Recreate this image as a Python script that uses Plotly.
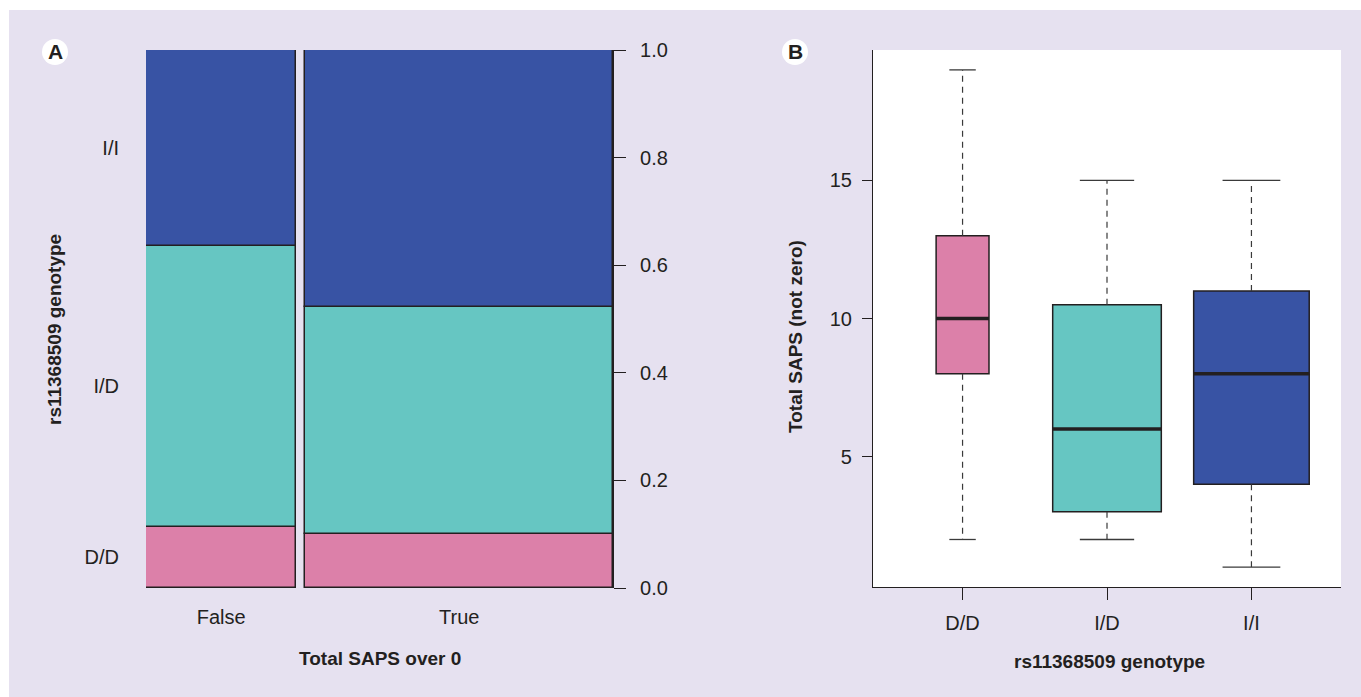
import numpy as np
import plotly.graph_objects as go

# ---------------- data ----------------
genotypes = ["D/D", "I/D", "I/I"]
saps_groups = ["False", "True"]
# counts of each genotype within "Total SAPS over 0" groups (read from mosaic proportions)
counts_false = [5, 23, 16]
counts_true = [9, 38, 43]
# boxplot statistics of Total SAPS (non-zero) per genotype
box_lower = [2, 2, 1]
box_q1 = [8, 3, 4]
box_median = [10, 6, 8]
box_q3 = [13, 10.5, 11]
box_upper = [19, 15, 15]
mosaic_ticks = [0.0, 0.2, 0.4, 0.6, 0.8, 1.0]
saps_ticks = [5, 10, 15]

# ---------------- styles ----------------
W, H = 1361, 697
colors = ["#dc80a9", "#66c6c2", "#3853a4"]
edge = "#231f20"
txt = "#231f20"
lavender = "#e6e1f0"
FONT = "Liberation Sans, Arial, sans-serif"
FS = 20
FT = 19


def fx(p):
    return p / W


def fy(p):
    return 1 - p / H


fig = go.Figure()

# ---------------- panel A: mosaic ----------------
cnt = np.array([counts_false, counts_true], dtype=float)  # rows: group, cols: genotype
N = cnt.sum()
gap = 9 / 467
col_w = (1 - gap) * cnt.sum(axis=1) / N
col_left = np.array([0.0, col_w[0] + gap])
col_center = col_left + col_w / 2
frac = cnt / cnt.sum(axis=1, keepdims=True)
base = np.cumsum(frac, axis=1) - frac

for gi, g in enumerate(genotypes):
    fig.add_trace(go.Bar(
        x=col_center, y=frac[:, gi], base=base[:, gi], width=col_w,
        marker=dict(color=colors[gi], line=dict(color=edge, width=1.5)),
        xaxis="x", yaxis="y", showlegend=False, name=g,
    ))

# invisible trace to carry the left genotype label axis
label_pos = base[0] + frac[0] / 2
fig.add_trace(go.Scatter(x=[0.5], y=[0.5], mode="markers", marker=dict(opacity=0),
                         xaxis="x", yaxis="y3", showlegend=False, hoverinfo="skip"))

# ---------------- panel B: boxplots ----------------
pos = np.arange(len(genotypes))
n_nonzero = np.array(counts_true, dtype=float)
bw = 0.8 * np.sqrt(n_nonzero / n_nonzero.max())

for i, g in enumerate(genotypes):
    fig.add_trace(go.Box(
        x=[pos[i]], q1=[box_q1[i]], median=[box_median[i]], q3=[box_q3[i]],
        lowerfence=[box_q1[i]], upperfence=[box_q3[i]], width=bw[i],
        fillcolor=colors[i], line=dict(color=edge, width=1.5), whiskerwidth=0,
        xaxis="x2", yaxis="y2", showlegend=False, name=g, hoverinfo="skip",
    ))

wx, wy, cx, cy, mx, my = [], [], [], [], [], []
for i in range(len(genotypes)):
    p = pos[i]
    wx += [p, p, None, p, p, None]
    wy += [box_q3[i], box_upper[i], None, box_q1[i], box_lower[i], None]
    cx += [p - bw[i] / 4, p + bw[i] / 4, None, p - bw[i] / 4, p + bw[i] / 4, None]
    cy += [box_upper[i], box_upper[i], None, box_lower[i], box_lower[i], None]
    mx += [p - bw[i] / 2, p + bw[i] / 2, None]
    my += [box_median[i], box_median[i], None]

fig.add_trace(go.Scatter(x=wx, y=wy, mode="lines", line=dict(color="#3a3a3a", width=1.2, dash="6px,5px"),
                         xaxis="x2", yaxis="y2", showlegend=False, hoverinfo="skip"))
fig.add_trace(go.Scatter(x=cx, y=cy, mode="lines", line=dict(color="#3a3a3a", width=1.3),
                         xaxis="x2", yaxis="y2", showlegend=False, hoverinfo="skip"))
fig.add_trace(go.Scatter(x=mx, y=my, mode="lines", line=dict(color=edge, width=3.5),
                         xaxis="x2", yaxis="y2", showlegend=False, hoverinfo="skip"))

# ---------------- layout ----------------
tickfont = dict(family=FONT, size=FS, color=txt)
common = dict(showgrid=False, zeroline=False, tickfont=tickfont, automargin=False)

yA_dom = [fy(588), fy(50)]
yB_dom = [fy(587), fy(50)]

fig.update_layout(
    width=W, height=H, margin=dict(l=0, r=0, t=0, b=0, pad=0), autosize=False,
    paper_bgcolor="white", plot_bgcolor="rgba(0,0,0,0)",
    barmode="overlay", boxmode="overlay", bargap=0,
    font=dict(family=FONT, size=FS, color=txt),
    xaxis=dict(domain=[fx(146), fx(613)], range=[0, 1], anchor="y",
               tickvals=col_center, ticktext=saps_groups, ticks="outside",
               ticklen=11, tickcolor="rgba(0,0,0,0)", showline=False, **common),
    yaxis=dict(domain=yA_dom, range=[0, 1], anchor="x", side="right",
               tickvals=mosaic_ticks, tickformat=".1f", ticks="outside", ticklen=12,
               tickwidth=1.2, tickcolor=edge, showline=True, linecolor=edge, linewidth=1.2,
               ticklabelstandoff=10, **common),
    yaxis3=dict(domain=yA_dom, range=[0, 1], anchor="x", overlaying="y", side="left",
                tickvals=label_pos, ticktext=genotypes, ticks="outside", ticklen=22,
                tickcolor="rgba(0,0,0,0)", showline=False, **common),
    xaxis2=dict(domain=[fx(873), fx(1341)], range=[-0.62, 2.62], anchor="y2",
                tickvals=pos, ticktext=genotypes, ticks="outside", ticklen=12,
                tickwidth=1.2, tickcolor=edge, showline=True, linecolor=edge, linewidth=1.2,
                ticklabelstandoff=6, **common),
    yaxis2=dict(domain=yB_dom, range=[0.28, 19.72], anchor="x2",
                tickvals=saps_ticks, ticks="outside", ticklen=10,
                tickwidth=1.2, tickcolor=edge, showline=True, linecolor=edge, linewidth=1.2,
                ticklabelstandoff=6, **common),
)

# backgrounds
fig.add_shape(type="rect", xref="paper", yref="paper", x0=fx(9), x1=1, y0=0, y1=fy(10),
              fillcolor=lavender, line=dict(width=0), layer="below")
fig.add_shape(type="rect", xref="x2 domain", yref="y2 domain", x0=0, x1=1, y0=0, y1=1,
              fillcolor="white", line=dict(width=0), layer="below")

# panel letters
for letter, cxp in (("A", 55), ("B", 795)):
    fig.add_shape(type="circle", xref="paper", yref="paper",
                  x0=fx(cxp - 13), x1=fx(cxp + 13), y0=fy(52 + 13), y1=fy(52 - 13),
                  fillcolor="white", line=dict(width=0))
    fig.add_annotation(x=fx(cxp), y=fy(52), xref="paper", yref="paper", text=f"<b>{letter}</b>",
                       showarrow=False, font=dict(family=FONT, size=21, color=txt),
                       xanchor="center", yanchor="middle")

# axis titles
titles = [
    ("Total SAPS over 0", 380, 658, 0),
    ("rs11368509 genotype", 1109, 661, 0),
    ("rs11368509 genotype", 55, 330, -90),
    ("Total SAPS (not zero)", 795, 337, -90),
]
for t, xp, yp, ang in titles:
    fig.add_annotation(x=fx(xp), y=fy(yp), xref="paper", yref="paper", text=f"<b>{t}</b>",
                       showarrow=False, textangle=ang, font=dict(family=FONT, size=FT, color=txt),
                       xanchor="center", yanchor="middle")

fig.write_html("out.html", config={"displayModeBar": False},
               post_script="document.body.style.margin='0';document.body.style.overflow='hidden';")
